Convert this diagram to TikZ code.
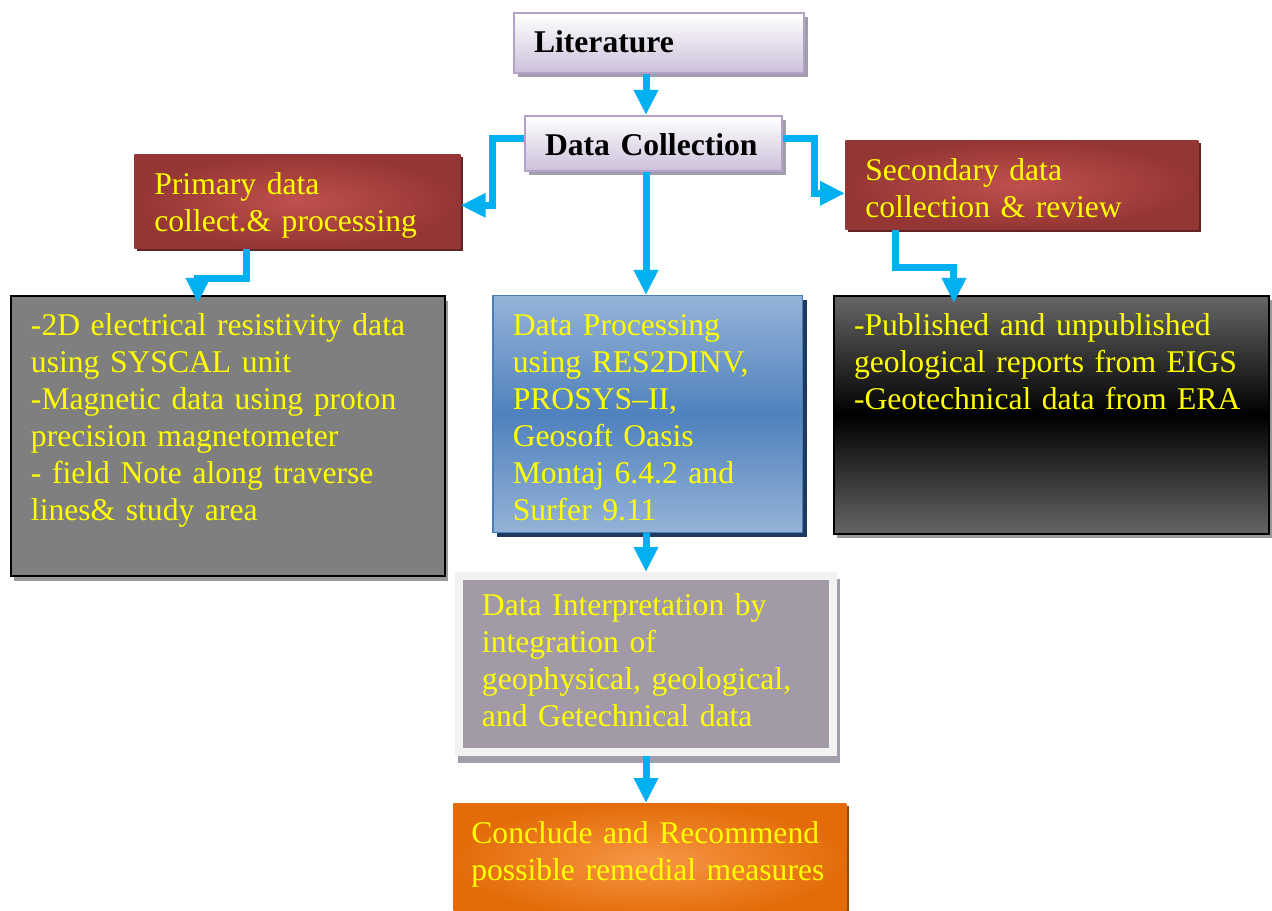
\documentclass[tikz,border=0pt]{standalone}
\usepackage{fontspec}
\setmainfont{Liberation Serif}
\usetikzlibrary{arrows.meta,calc}
\hyphenpenalty=10000

\definecolor{flowblue}{HTML}{00B0F0}
\definecolor{txtyellow}{HTML}{FFFF00}
\definecolor{lavbot}{HTML}{CCC0DA}
\definecolor{lavline}{HTML}{B3A2C7}
\definecolor{lavshadow}{HTML}{A39DAB}
\definecolor{redin}{HTML}{C0504D}
\definecolor{redout}{HTML}{943634}
\definecolor{redshadow}{HTML}{632523}
\definecolor{bluelight}{HTML}{95B3D7}
\definecolor{bluemid}{HTML}{4F81BD}
\definecolor{blueline}{HTML}{4A7EBB}
\definecolor{blueshadow}{HTML}{1F3A60}
\definecolor{fieldgray}{HTML}{7F7F7F}
\definecolor{fieldshadow}{HTML}{9A9A9A}
\definecolor{darkgray}{HTML}{666666}
\definecolor{intfill}{HTML}{A29AA7}
\definecolor{intframe}{HTML}{F2F2F2}
\definecolor{orgin}{HTML}{F79646}
\definecolor{orgout}{HTML}{E36C09}
\definecolor{orgshadow}{HTML}{984807}

\begin{document}
\begin{tikzpicture}[x=0.02cm, y=-0.02cm,
  %% all boxes hang from their top left corner
  box/.style={rectangle, anchor=north west, inner xsep=0.4cm, inner ysep=0pt,
    align=left, text height=0.8cm, text=txtyellow,
    font=\fontsize{18}{21}\selectfont},
  titlebox/.style={box, top color=white, bottom color=lavbot, draw=lavline,
    line width=0.04cm, text=black, font=\fontsize{18}{21}\selectfont\bfseries,
    preaction={fill=lavshadow, transform canvas={xshift=0.08cm, yshift=-0.08cm}}},
  redbox/.style={box, inner color=redin, outer color=redout,
    preaction={fill=redshadow, transform canvas={xshift=0.06cm, yshift=-0.06cm}}},
  fieldbox/.style={box, fill=fieldgray, draw=black, line width=0.04cm,
    preaction={fill=fieldshadow, transform canvas={xshift=0.06cm, yshift=-0.1cm}}},
  procbox/.style={box, top color=bluelight, bottom color=bluelight, middle color=bluemid,
    draw=blueline, line width=0.03cm,
    preaction={fill=blueshadow, transform canvas={xshift=0.08cm, yshift=-0.08cm}}},
  reportbox/.style={box, top color=darkgray, bottom color=darkgray, middle color=black,
    draw=black, line width=0.04cm,
    preaction={fill=fieldshadow, transform canvas={xshift=0.06cm, yshift=-0.08cm}}},
  interbox/.style={box, fill=intfill, draw=intframe, line width=0.16cm, inner xsep=0.46cm,
    preaction={draw=lavshadow, fill=lavshadow, transform canvas={xshift=0.06cm, yshift=-0.14cm}}},
  endbox/.style={box, inner color=orgin, outer color=orgout, inner xsep=0.36cm,
    preaction={fill=orgshadow, transform canvas={xshift=0.06cm, yshift=-0.06cm}}},
  flow/.style={draw=flowblue, line width=0.14cm, line join=miter,
    -{Triangle[width=0.46cm, length=0.5cm]}}
]

\path[use as bounding box, fill=white] (0,0) rectangle (1272,911);

%% top of the chain
\node[titlebox, minimum width=5.8cm, text width=5cm, text depth=0.4cm] (lit) at (513,12) {Literature};
\node[titlebox, minimum width=5.14cm, text width=4.34cm, text depth=0.3cm] (dc) at (524,115) {Data Collection};

%% the two collection branches
\node[redbox, minimum width=6.52cm, text width=5.72cm, text depth=1.08cm] (prim) at (134,154)
  {Primary data\\collect.\& processing};
\node[redbox, minimum width=7.06cm, text width=6.26cm, text depth=0.98cm] (sec) at (845,140)
  {Secondary data\\collection \& review};

\node[fieldbox, minimum width=8.68cm, text width=7.88cm, text depth=4.8cm] (field) at (10,295)
  {-2D electrical resistivity data\\using SYSCAL unit\\-Magnetic data using proton\\precision magnetometer\\- field Note along traverse\\lines\& study area};
\node[procbox, minimum width=6.2cm, text width=5.4cm, text depth=3.94cm] (dp) at (492,295)
  {Data Processing\\using RES2DINV,\\PROSYS--II,\\Geosoft Oasis\\Montaj 6.4.2 and\\Surfer 9.11};
\node[reportbox, minimum width=8.7cm, text width=7.9cm, text depth=3.96cm] (report) at (833,295)
  {-Published and unpublished\\geological reports from EIGS\\-Geotechnical data from ERA};

%% bottom of the chain
\node[interbox, minimum width=7.48cm, text width=6.56cm, text depth=2.72cm] (inter) at (455,572)
  {Data Interpretation by\\integration of\\geophysical, geological,\\and Getechnical data};
\node[endbox, minimum width=7.86cm, text width=7.14cm, text depth=1.5cm] (concl) at (453,803)
  {Conclude and Recommend\\possible remedial measures};

%% blue arrows
\coordinate (spine) at (646,0);
\draw[flow] (lit.south -| spine) -- (dc.north -| spine);
\draw[flow] ([yshift=0.09cm]dc.west) -- ++(-32,0) |- ([yshift=-0.08cm]prim.east);
\draw[flow] ([yshift=0.09cm]dc.east) -- ++(32,0) |- ([yshift=-0.17cm]sec.west);
\draw[flow] (dc.south -| spine) -- (dp.north -| spine);
\draw[flow] ([xshift=-1.02cm]prim.south) -- ++(0,30) -| ([xshift=-0.6cm, yshift=-0.16cm]field.north);
\draw[flow] ([xshift=-2.53cm]sec.south) -- ++(0,38) -| ([xshift=-1.95cm, yshift=-0.16cm]report.north);
\draw[flow] (dp.south -| spine) -- (inter.north -| spine);
\draw[flow] (inter.south -| spine) -- (concl.north -| spine);

\end{tikzpicture}
\end{document}
